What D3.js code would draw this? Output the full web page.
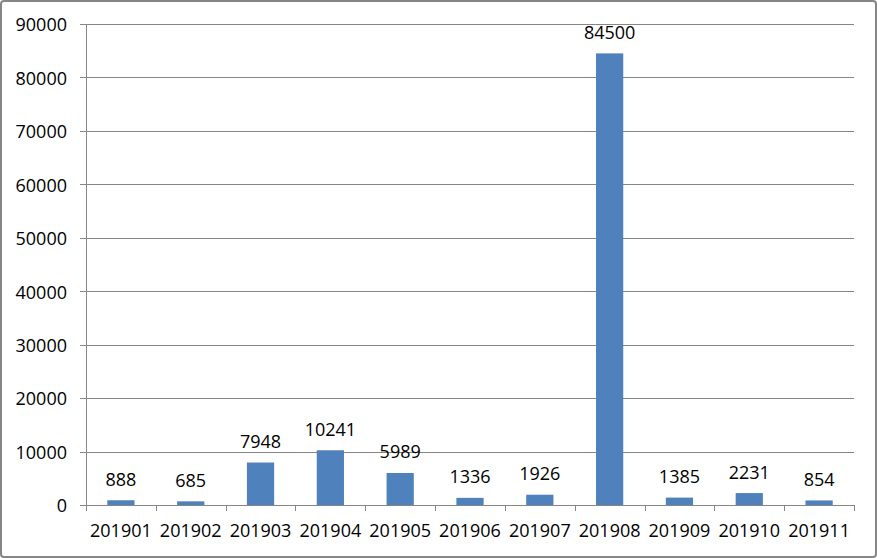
<!DOCTYPE html>
<html>
<head>
<meta charset="utf-8">
<script src="https://cdn.jsdelivr.net/npm/d3@7"></script>
<style>
  html, body { margin: 0; padding: 0; background: #fff; }
  svg { display: block; }
  text { font-family: "Open Sans", sans-serif; font-size: 18px; fill: #000; }
</style>
</head>
<body>
<svg id="chart" width="877" height="558"></svg>
<script>
const categories = ["201901","201902","201903","201904","201905","201906","201907","201908","201909","201910","201911"];
const values = [888, 685, 7948, 10241, 5989, 1336, 1926, 84500, 1385, 2231, 854];
const yTicks = [0, 10000, 20000, 30000, 40000, 50000, 60000, 70000, 80000, 90000];

const W = 877, H = 558;
const margin = { left: 86, right: 23, top: 24, bottom: 53 };
const svg = d3.select("#chart");

svg.append("rect")
  .attr("x", 1).attr("y", 1).attr("width", W - 2).attr("height", H - 2)
  .attr("rx", 3).attr("fill", "#fff").attr("stroke", "#868686").attr("stroke-width", 2);

const x = d3.scaleBand().domain(categories).range([margin.left, W - margin.right]).paddingInner(0).paddingOuter(0);
const y = d3.scaleLinear().domain([0, 90000]).range([H - margin.bottom, margin.top]);

const grid = "#868686";

// gridlines + y tick marks
svg.append("g").selectAll("line").data(yTicks).join("line")
  .attr("x1", margin.left - 6).attr("x2", W - margin.right)
  .attr("y1", d => Math.round(y(d)) + 0.5).attr("y2", d => Math.round(y(d)) + 0.5)
  .attr("stroke", grid).attr("stroke-width", 1);

// y labels
svg.append("g").selectAll("text").data(yTicks).join("text")
  .attr("x", 67).attr("y", d => y(d) + 1).attr("dy", "0.35em")
  .attr("text-anchor", "end").text(d => d);

// bars
const bw = x.bandwidth() * 0.39;
svg.append("g").selectAll("rect").data(values).join("rect")
  .attr("x", (d, i) => x(categories[i]) + x.bandwidth() / 2 - bw / 2)
  .attr("width", bw)
  .attr("y", d => y(d))
  .attr("height", d => y(0) - y(d))
  .attr("fill", "#4F81BD");

// y axis line
svg.append("line")
  .attr("x1", margin.left + 0.5).attr("x2", margin.left + 0.5)
  .attr("y1", margin.top).attr("y2", y(0))
  .attr("stroke", grid);

// x tick marks at band boundaries
const bounds = categories.map(c => x(c)).concat([W - margin.right]);
svg.append("g").selectAll("line").data(bounds).join("line")
  .attr("x1", d => Math.round(d) + 0.5).attr("x2", d => Math.round(d) + 0.5)
  .attr("y1", y(0)).attr("y2", y(0) + 6)
  .attr("stroke", grid);

// x labels
svg.append("g").selectAll("text").data(categories).join("text")
  .attr("x", d => x(d) + x.bandwidth() / 2).attr("y", 537)
  .attr("text-anchor", "middle").text(d => d);

// data labels
svg.append("g").selectAll("text").data(values).join("text")
  .attr("x", (d, i) => x(categories[i]) + x.bandwidth() / 2)
  .attr("y", d => y(d) - 14.5)
  .attr("text-anchor", "middle").text(d => d);
</script>
</body>
</html>
